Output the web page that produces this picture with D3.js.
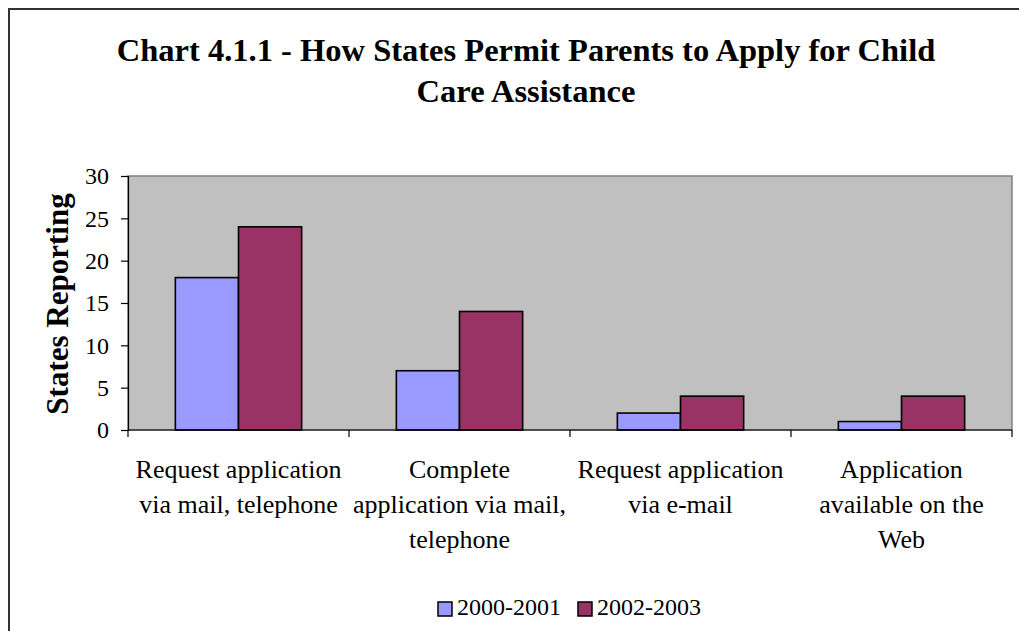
<!DOCTYPE html>
<html>
<head>
<meta charset="utf-8">
<script src="https://cdn.jsdelivr.net/npm/d3@7"></script>
<style>
  html, body { margin: 0; padding: 0; background: #fff; }
  svg { display: block; }
  text { font-family: "Liberation Serif", "Times New Roman", serif; fill: #000; }
</style>
</head>
<body>
<svg id="chart" width="1019" height="631"></svg>
<script>
// Chart data
const categories = [
  ["Request application", "via mail, telephone"],
  ["Complete", "application via mail,", "telephone"],
  ["Request application", "via e-mail"],
  ["Application", "available on the", "Web"]
];
const seriesNames = ["2000-2001", "2002-2003"];
const values2000 = [18, 7, 2, 1];
const values2002 = [24, 14, 4, 4];
const yTicks = [0, 5, 10, 15, 20, 25, 30];
const titleLines = ["Chart 4.1.1 - How States Permit Parents to Apply for Child", "Care Assistance"];
const yTitle = "States Reporting";
const colors = ["#9999FF", "#993366"];

const svg = d3.select("#chart");

// Outer chart frame
svg.append("rect")
  .attr("x", 9).attr("y", 9)
  .attr("width", 1030).attr("height", 640)
  .attr("fill", "#fff").attr("stroke", "#333").attr("stroke-width", 2);

// Title
svg.append("g").selectAll("text").data(titleLines).join("text")
  .attr("x", 526).attr("y", (d, i) => 61 + i * 41)
  .attr("text-anchor", "middle")
  .attr("font-size", 32.5).attr("font-weight", "bold")
  .text(d => d);

// Plot area
const plot = { left: 128, right: 1012, top: 176, bottom: 430 };

const x0 = d3.scaleBand()
  .domain(d3.range(categories.length))
  .range([plot.left, plot.right])
  .paddingInner(0).paddingOuter(0);

// Two bars per category with a gap of 150% of the bar width
const barW = x0.bandwidth() / 3.5;
const x1 = d3.scaleBand().domain([0, 1]).range([0, barW * 2]);

const y = d3.scaleLinear().domain([0, 30]).range([plot.bottom, plot.top]);

svg.append("rect")
  .attr("x", plot.left).attr("y", plot.top)
  .attr("width", plot.right - plot.left).attr("height", plot.bottom - plot.top)
  .attr("fill", "#C0C0C0").attr("stroke", "#808080").attr("stroke-width", 1.5);

// Bars
const series = [values2000, values2002];
const g = svg.append("g");
series.forEach((vals, s) => {
  g.selectAll(null).data(vals).join("rect")
    .attr("x", (d, i) => x0(i) + barW * 0.75 + x1(s))
    .attr("y", d => y(d))
    .attr("width", x1.bandwidth())
    .attr("height", d => y(0) - y(d))
    .attr("fill", colors[s])
    .attr("stroke", "#000").attr("stroke-width", 1.6);
});

// Y axis
const yAxis = svg.append("g")
  .attr("transform", `translate(${plot.left},0)`)
  .call(d3.axisLeft(y).tickValues(yTicks).tickSize(7).tickPadding(12));
yAxis.select(".domain").attr("stroke", "#000").attr("stroke-width", 1.2);
yAxis.selectAll(".tick line").attr("stroke", "#000").attr("stroke-width", 1.2);
yAxis.selectAll(".tick text")
  .attr("font-family", "Liberation Serif, Times New Roman, serif")
  .attr("font-size", 24).attr("fill", "#000");

// X axis line with category separators
const xAxis = svg.append("g")
  .attr("transform", `translate(0,${plot.bottom})`);
xAxis.append("line")
  .attr("x1", plot.left).attr("x2", plot.right)
  .attr("stroke", "#000").attr("stroke-width", 1.2);
const boundaries = d3.range(categories.length + 1).map(i =>
  i < categories.length ? x0(i) : x0(i - 1) + x0.bandwidth());
xAxis.selectAll("line.sep").data(boundaries).join("line")
  .attr("class", "sep")
  .attr("x1", d => d).attr("x2", d => d)
  .attr("y1", 0).attr("y2", 7)
  .attr("stroke", "#000").attr("stroke-width", 1.2);

// Category labels
const labels = svg.append("g");
categories.forEach((lines, i) => {
  labels.append("text")
    .attr("x", x0(i) + x0.bandwidth() / 2)
    .attr("text-anchor", "middle")
    .attr("font-size", 26)
    .selectAll("tspan").data(lines).join("tspan")
      .attr("x", x0(i) + x0.bandwidth() / 2)
      .attr("y", (d, j) => 478 + j * 35)
      .text(d => d);
});

// Y axis title
svg.append("text")
  .attr("transform", "translate(68,304) rotate(-90)")
  .attr("text-anchor", "middle")
  .attr("font-size", 31).attr("font-weight", "bold")
  .text(yTitle);

// Legend
const legendItems = [
  { name: seriesNames[0], color: colors[0], x: 438 },
  { name: seriesNames[1], color: colors[1], x: 578 }
];
const legend = svg.append("g");
legendItems.forEach(item => {
  legend.append("rect")
    .attr("x", item.x).attr("y", 602)
    .attr("width", 14).attr("height", 14)
    .attr("fill", item.color).attr("stroke", "#000").attr("stroke-width", 1.5);
  legend.append("text")
    .attr("x", item.x + 19).attr("y", 615)
    .attr("font-size", 24)
    .text(item.name);
});
</script>
</body>
</html>
